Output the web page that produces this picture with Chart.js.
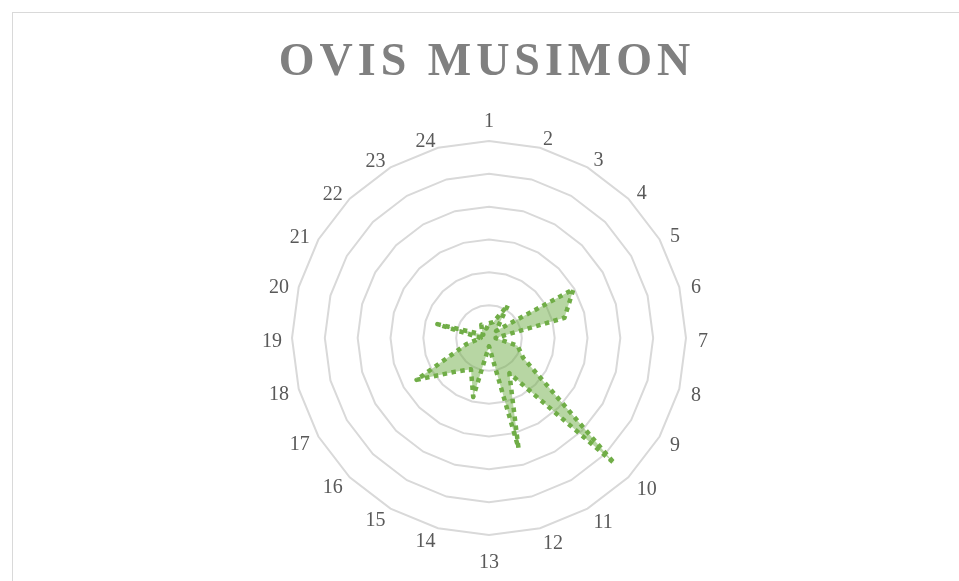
<!DOCTYPE html>
<html>
<head>
<meta charset="utf-8">
<script src="https://cdn.jsdelivr.net/npm/chart.js@4"></script>
<style>
  html, body { margin: 0; padding: 0; background: #fff; overflow: hidden; }
  .frame { position: absolute; left: 12px; top: 12px; width: 1000px; height: 700px; border: 1px solid #d9d9d9; }
  .wrap { position: absolute; left: 0; top: 0; width: 959px; height: 581px; }
</style>
</head>
<body>
<div class="frame"></div>
<div class="wrap"><canvas id="chart" width="959" height="581"></canvas></div>
<script>
// hours of the day
const hours = ['1', '2', '3', '4', '5', '6', '7', '8', '9', '10', '11', '12',
               '13', '14', '15', '16', '17', '18', '19', '20', '21', '22', '23', '24'];
// activity per hour
const activity = [0.45, 0.5, 1.15, 0.3, 2.97, 2.38, 0.2, 0.9, 1.2, 5.4, 1.24, 3.47,
                  0.25, 1.86, 1.1, 1.45, 2.55, 0.7, 0.25, 1.63, 0.2, 0.3, 0.47, 0.3];
const ringMax = 6;
const ringStep = 1;

const green = '#70AD47';

// title gets some letter spacing like the original
const spacedTitle = {
    id: 'spacedTitle',
    beforeDraw(chart) {
        const t = chart.titleBlock;
        if (t && !t._spaced) {
            const draw = t.draw.bind(t);
            t.draw = function () {
                const ctx = this.ctx;
                ctx.save();
                ctx.letterSpacing = '5px';
                ctx.translate(-2, 0);
                draw();
                ctx.restore();
            };
            t._spaced = true;
        }
    }
};

// hour labels placed the excel way: centred at top/bottom, else pushed out sideways
const hourLabels = {
    id: 'hourLabels',
    afterDraw(chart) {
        const scale = chart.scales.r;
        const ctx = chart.ctx;
        const R = scale.drawingArea;
        const n = hours.length;
        ctx.save();
        ctx.font = '20px "Liberation Serif"';
        ctx.fillStyle = '#595959';
        ctx.textBaseline = 'middle';
        hours.forEach((h, i) => {
            let p;
            if (i === 0 || i === n / 2) {
                ctx.textAlign = 'center';
                p = scale.getPointPosition(i, R + (i === 0 ? 22.5 : 24));
            } else if (i < n / 2) {
                ctx.textAlign = 'left';
                p = scale.getPointPosition(i, R + 12);
            } else {
                ctx.textAlign = 'right';
                p = scale.getPointPosition(i, R + 10);
            }
            ctx.fillText(h, p.x, p.y + 3.5);
        });
        ctx.restore();
    }
};

new Chart(document.querySelector('#chart'), {
    type: 'radar',
    plugins: [spacedTitle, hourLabels],
    data: {
        labels: hours,
        datasets: [{
            label: 'Ovis musimon',
            data: activity,
            backgroundColor: 'rgba(112, 173, 71, 0.5)',
            borderColor: green,
            borderWidth: 4.5,
            borderDash: [4.5, 4.5],
            borderJoinStyle: 'round',
            pointRadius: 0,
            pointHoverRadius: 0,
            fill: true
        }]
    },
    options: {
        responsive: false,
        animation: false,
        devicePixelRatio: 1,
        layout: { padding: { left: 19, right: 0, top: 0, bottom: 45 } },
        plugins: {
            legend: { display: false },
            tooltip: { enabled: false },
            title: {
                display: true,
                text: 'OVIS MUSIMON',
                color: '#808080',
                font: { family: 'Liberation Serif', size: 46, weight: 'bold' },
                padding: { top: 36, bottom: 50 }
            }
        },
        scales: {
            r: {
                min: 0,
                max: ringMax,
                ticks: { stepSize: ringStep, display: false },
                grid: { color: '#d9d9d9', lineWidth: 2 },
                angleLines: { display: false },
                pointLabels: { display: false }
            }
        }
    }
});
</script>
</body>
</html>
